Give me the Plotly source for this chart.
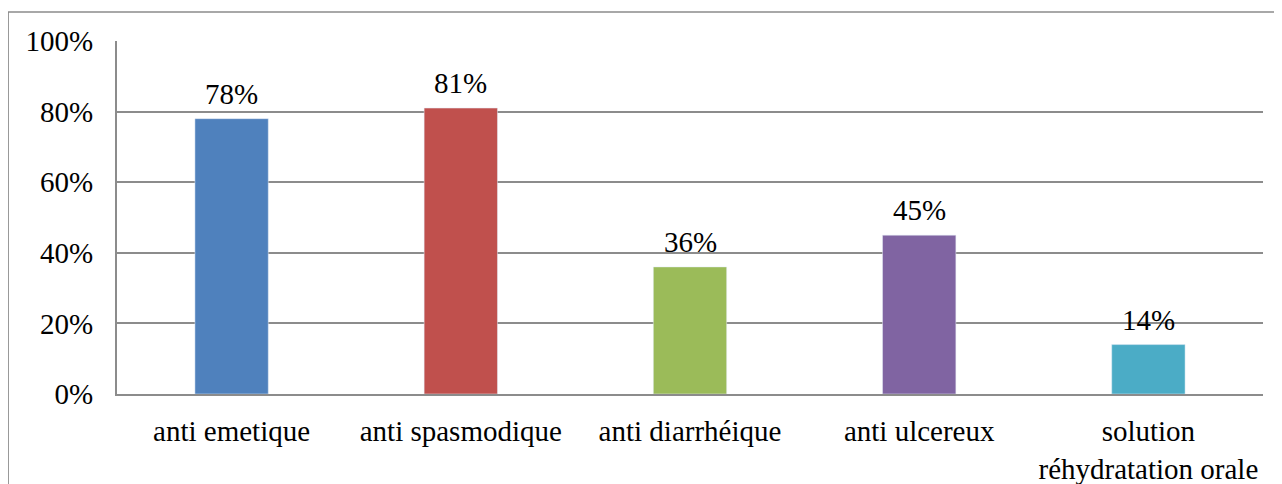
import plotly.graph_objects as go

# Data
categories = ["anti emetique", "anti spasmodique", "anti diarrhéique",
              "anti ulcereux", "solution<br>réhydratation orale"]
values = [0.78, 0.81, 0.36, 0.45, 0.14]
labels = ["78%", "81%", "36%", "45%", "14%"]
colors = ["#4F81BD", "#C0504D", "#9BBB59", "#8064A2", "#4BACC6"]
ytick_vals = [0, 0.2, 0.4, 0.6, 0.8, 1.0]
ytick_text = ["0%", "20%", "40%", "60%", "80%", "100%"]

font_family = "Liberation Serif"
fsize = 29
grid_col = "#8C8C8C"

fig = go.Figure()

fig.add_trace(go.Bar(
    x=categories, y=values, marker_color=colors,
    width=0.32, hoverinfo="x+y"
))

# étiquettes de valeurs au-dessus des barres
for cat, v, lab in zip(categories, values, labels):
    fig.add_annotation(x=cat, y=v, text=lab, showarrow=False,
                       yanchor="bottom", yshift=7,
                       font=dict(family=font_family, size=fsize, color="black"))

fig.update_layout(
    width=1274, height=476,
    plot_bgcolor="white", paper_bgcolor="white",
    margin=dict(l=109, r=19, t=33, b=90, autoexpand=False),
    showlegend=False,
    font=dict(family=font_family, size=fsize, color="black"),
    xaxis=dict(
        showline=True, linecolor=grid_col, linewidth=2,
        ticks="", ticklabelstandoff=10, automargin=False,
        tickfont=dict(size=fsize),
    ),
    yaxis=dict(
        range=[0, 1.0], tickvals=ytick_vals, ticktext=ytick_text,
        showline=True, linecolor=grid_col, linewidth=2,
        showgrid=True, gridcolor=grid_col, gridwidth=2,
        zeroline=False, ticks="", ticklabelstandoff=16, automargin=False,
        tickfont=dict(size=fsize),
    ),
)

# cadre du graphique
fig.add_shape(type="rect", xref="paper", yref="paper",
              x0=-0.095, x1=1.016, y0=-0.3, y1=1.082,
              line=dict(color="#8C8C8C", width=1.5), layer="below")

fig.write_html("out.html")
